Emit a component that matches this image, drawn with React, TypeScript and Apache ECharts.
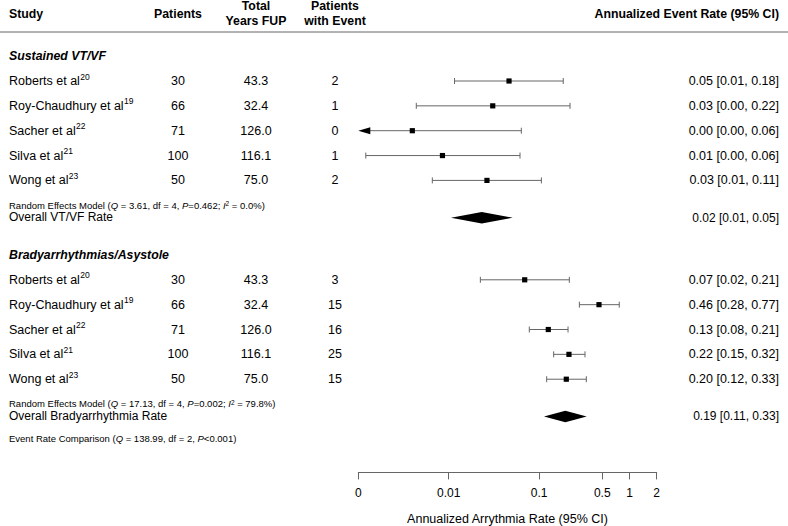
import { useEffect, useRef } from "react";
import * as echarts from "echarts";

// ---------- data ----------
const studies = ["Roberts et al", "Roy-Chaudhury et al", "Sacher et al", "Silva et al", "Wong et al"];
const studyRefs = ["20", "19", "22", "21", "23"];
const patients = ["30", "66", "71", "100", "50"];
const totalYearsFUP = ["43.3", "32.4", "126.0", "116.1", "75.0"];

const vtvfEvents = ["2", "1", "0", "1", "2"];
const vtvfRate = [0.0465, 0.0307, 0.00396, 0.00853, 0.0265];
const vtvfLower = [0.0116, 0.00438, 0.0001, 0.00121, 0.00659];
const vtvfUpper = [0.185, 0.22, 0.0636, 0.0615, 0.106];
const vtvfLabels = ["0.05 [0.01, 0.18]", "0.03 [0.00, 0.22]", "0.00 [0.00, 0.06]", "0.01 [0.00, 0.06]", "0.03 [0.01, 0.11]"];
const vtvfOverall = [0.0232, 0.0106, 0.051]; // estimate, lower, upper
const vtvfOverallLabel = "0.02 [0.01, 0.05]";

const bradyEvents = ["3", "15", "16", "25", "15"];
const bradyRate = [0.0693, 0.46, 0.1264, 0.214, 0.2];
const bradyLower = [0.0224, 0.279, 0.0779, 0.145, 0.1213];
const bradyUpper = [0.216, 0.771, 0.209, 0.322, 0.333];
const bradyLabels = ["0.07 [0.02, 0.21]", "0.46 [0.28, 0.77]", "0.13 [0.08, 0.21]", "0.22 [0.15, 0.32]", "0.20 [0.12, 0.33]"];
const bradyOverall = [0.195, 0.1133, 0.336];
const bradyOverallLabel = "0.19 [0.11, 0.33]";

const sectionTitles = ["Sustained VT/VF", "Bradyarrhythmias/Asystole"];
const overallTitles = ["Overall VT/VF Rate", "Overall Bradyarrhythmia Rate"];
const hetQ = ["3.61", "17.13"];
const hetDf = ["4", "4"];
const hetP = ["0.462", "0.002"];
const hetI2 = ["0.0", "79.8"];
const comparisonQ = "138.99";
const comparisonDf = "2";
const comparisonP = "<0.001";

const tickValues = [0.001, 0.01, 0.1, 0.5, 1, 2];
const tickLabels = ["0", "0.01", "0.1", "0.5", "1", "2"];
const axisTitle = "Annualized Arrythmia Rate (95% CI)";

// ---------- layout ----------
const FONT = '"Liberation Sans", Arial, Helvetica, sans-serif';
const X_STUDY = 9;
const X_PAT = 178;
const X_YRS = 256;
const X_EVT = 335;
const X_RATE = 779;
const vtvfRows = [0, 1, 2, 3, 4];
const bradyRows = [8, 9, 10, 11, 12];
const sectionRows = [-1, 7];
const hetRows = [5.0, 12.98];
const overallRows = [5.5, 13.5];
const comparisonRow = 14.38;

const lg = (v: number) => Math.log10(v);
const LOG_MIN = lg(tickValues[0]);
const LOG_MAX = lg(tickValues[tickValues.length - 1]);

export default function App() {
  const ref = useRef<HTMLDivElement>(null);

  useEffect(() => {
    if (!ref.current) return;
    const chart = echarts.init(ref.current, null, { renderer: "svg" });

    const ctx = document.createElement("canvas").getContext("2d")!;
    const measure = (t: string, size: number) => {
      ctx.font = `${size}px "Liberation Sans", Arial, sans-serif`;
      return ctx.measureText(t).width;
    };

    const txt = (x: number, y: number, text: string, extra: any = {}) => ({
      type: "text",
      x,
      y,
      silent: true,
      style: {
        text,
        fill: "#000",
        fontFamily: FONT,
        fontSize: 12.5,
        align: "left",
        verticalAlign: "middle",
        ...extra,
      },
    });

    // table rows
    const rows: any[] = [];
    const studyData: any[] = [];
    const groups = [
      { rows: vtvfRows, ev: vtvfEvents, est: vtvfRate, lo: vtvfLower, hi: vtvfUpper, lab: vtvfLabels },
      { rows: bradyRows, ev: bradyEvents, est: bradyRate, lo: bradyLower, hi: bradyUpper, lab: bradyLabels },
    ];
    groups.forEach((g) => {
      studies.forEach((s, i) => {
        rows.push({ name: s, sup: studyRefs[i], pat: patients[i], yrs: totalYearsFUP[i], ev: g.ev[i], lab: g.lab[i] });
        studyData.push([lg(g.est[i]), g.rows[i], lg(g.lo[i]), lg(g.hi[i])]);
      });
    });

    const overallData = [
      [lg(vtvfOverall[0]), overallRows[0], lg(vtvfOverall[1]), lg(vtvfOverall[2])],
      [lg(bradyOverall[0]), overallRows[1], lg(bradyOverall[1]), lg(bradyOverall[2])],
    ];
    const overallLabels = [vtvfOverallLabel, bradyOverallLabel];

    const richSmall = {
      r: { fontSize: 9.5, fontFamily: FONT, fill: "#000", lineHeight: 10 },
      i: { fontSize: 9.5, fontFamily: FONT, fill: "#000", fontStyle: "italic", lineHeight: 10 },
      s: { fontSize: 6.5, fontFamily: FONT, fill: "#000", lineHeight: 4, verticalAlign: "top" },
    };
    const hetText = (k: number) =>
      `{r|Random Effects Model (}{i|Q}{r| = ${hetQ[k]}, df = ${hetDf[k]}, }{i|P}{r|=${hetP[k]}; }{i|I}{s|2}{r| = ${hetI2[k]}%)}`;
    const compText = `{r|Event Rate Comparison (}{i|Q}{r| = ${comparisonQ}, df = ${comparisonDf}, }{i|P}{r|${comparisonP})}`;

    const annData: any[] = [
      [LOG_MIN, sectionRows[0], 0, 0],
      [LOG_MIN, sectionRows[1], 0, 1],
      [LOG_MIN, hetRows[0], 1, 0],
      [LOG_MIN, hetRows[1], 1, 1],
      [LOG_MIN, comparisonRow, 2, 0],
    ];

    const grey = "#666";

    const option: any = {
      animation: false,
      backgroundColor: "#fff",
      grid: {
        left: 358.3,
        right: 131.3,
        top: 31.3,
        bottom: 53.6,
        containLabel: false,
        outerBoundsMode: "none",
      },
      xAxis: {
        type: "value",
        position: "bottom",
        min: LOG_MIN,
        max: LOG_MAX,
        name: axisTitle,
        nameLocation: "middle",
        nameGap: 40,
        nameTextStyle: { fontSize: 12.5, color: "#000", fontFamily: FONT },
        axisLine: { show: true, onZero: false, lineStyle: { color: grey, width: 1 } },
        axisTick: { show: true, length: 7, customValues: tickValues.map(lg), lineStyle: { color: grey, width: 1 } },
        axisLabel: {
          customValues: tickValues.map(lg),
          margin: 15,
          fontSize: 12,
          color: "#000",
          fontFamily: FONT,
          formatter: (v: number) => {
            let best = 0;
            tickValues.forEach((t, i) => {
              if (Math.abs(lg(t) - v) < Math.abs(lg(tickValues[best]) - v)) best = i;
            });
            return tickLabels[best];
          },
        },
        splitLine: { show: false },
      },
      yAxis: { type: "value", inverse: true, min: -2, max: 15.75, show: false },
      graphic: [
        { type: "line", shape: { x1: 0, y1: 32, x2: 788, y2: 32 }, style: { stroke: grey, lineWidth: 1 }, silent: true },
        txt(X_STUDY, 13.5, "Study", { fontWeight: "bold", fontSize: 12.3 }),
        txt(X_PAT, 13.5, "Patients", { fontWeight: "bold", fontSize: 12.3, align: "center" }),
        txt(X_YRS, 6, "Total", { fontWeight: "bold", fontSize: 12.3, align: "center" }),
        txt(X_YRS, 21, "Years FUP", { fontWeight: "bold", fontSize: 12.3, align: "center" }),
        txt(X_EVT, 6, "Patients", { fontWeight: "bold", fontSize: 12.3, align: "center" }),
        txt(X_EVT, 21, "with Event", { fontWeight: "bold", fontSize: 12.3, align: "center" }),
        txt(X_RATE, 13.5, "Annualized Event Rate (95% CI)", { fontWeight: "bold", fontSize: 12.3, align: "right" }),
      ],
      series: [
        {
          type: "custom",
          name: "studies",
          clip: false,
          data: studyData,
          renderItem: (params: any, api: any) => {
            const r = rows[params.dataIndex];
            const row = api.value(1);
            const [xE, y] = api.coord([api.value(0), row]);
            const loV = api.value(2);
            const xL = api.coord([Math.max(loV, LOG_MIN), row])[0];
            const xH = api.coord([api.value(3), row])[0];
            const clipped = loV < LOG_MIN;
            const children: any[] = [];
            children.push({
              type: "line",
              shape: { x1: clipped ? xL + 6 : xL, y1: y, x2: xH, y2: y },
              style: { stroke: grey, lineWidth: 1 },
            });
            if (!clipped) {
              children.push({ type: "line", shape: { x1: xL, y1: y - 3, x2: xL, y2: y + 3 }, style: { stroke: grey, lineWidth: 1 } });
            } else {
              children.push({
                type: "polygon",
                shape: { points: [[xL, y], [xL + 12, y - 3.5], [xL + 12, y + 3.5]] },
                style: { fill: "#000" },
              });
            }
            children.push({ type: "line", shape: { x1: xH, y1: y - 3, x2: xH, y2: y + 3 }, style: { stroke: grey, lineWidth: 1 } });
            children.push({ type: "rect", shape: { x: xE - 2.6, y: y - 2.6, width: 5.2, height: 5.2 }, style: { fill: "#000" } });
            const w = measure(r.name, 12.5);
            children.push(txt(X_STUDY, y, r.name));
            children.push(txt(X_STUDY + w + 0.3, y - 4.5, r.sup, { fontSize: 8.5 }));
            children.push(txt(X_PAT, y, r.pat, { align: "center" }));
            children.push(txt(X_YRS, y, r.yrs, { align: "center" }));
            children.push(txt(X_EVT, y, r.ev, { align: "center" }));
            children.push(txt(X_RATE, y, r.lab, { align: "right" }));
            return { type: "group", children };
          },
        },
        {
          type: "custom",
          name: "overall",
          clip: false,
          data: overallData,
          renderItem: (params: any, api: any) => {
            const row = api.value(1);
            const [xE, y] = api.coord([api.value(0), row]);
            const xL = api.coord([api.value(2), row])[0];
            const xH = api.coord([api.value(3), row])[0];
            return {
              type: "group",
              children: [
                {
                  type: "polygon",
                  shape: { points: [[xL, y], [xE, y - 5.8], [xH, y], [xE, y + 5.8]] },
                  style: { fill: "#000" },
                },
                txt(X_STUDY, y - 0.5, overallTitles[params.dataIndex], { fontSize: 12 }),
                txt(X_RATE, y, overallLabels[params.dataIndex], { fontSize: 12, align: "right" }),
              ],
            };
          },
        },
        {
          type: "custom",
          name: "annotations",
          clip: false,
          data: annData,
          renderItem: (params: any, api: any) => {
            const y = api.coord([LOG_MIN, api.value(1)])[1];
            const kind = api.value(2);
            const k = api.value(3);
            if (kind === 0) {
              return txt(X_STUDY, y, sectionTitles[k], { fontWeight: "bold", fontStyle: "italic", fontSize: 12.3 });
            }
            const text = kind === 1 ? hetText(k) : compText;
            return {
              type: "text",
              x: X_STUDY,
              y,
              silent: true,
              style: { text, rich: richSmall, align: "left", verticalAlign: "middle", fontFamily: FONT, fontSize: 9.5, fill: "#000" },
            };
          },
        },
      ],
    };

    chart.setOption(option);
    return () => chart.dispose();
  }, []);

  return (
    <div
      ref={ref}
      style={{ position: "absolute", left: 0, top: 0, width: 788, height: 526, background: "#fff" }}
    />
  );
}
